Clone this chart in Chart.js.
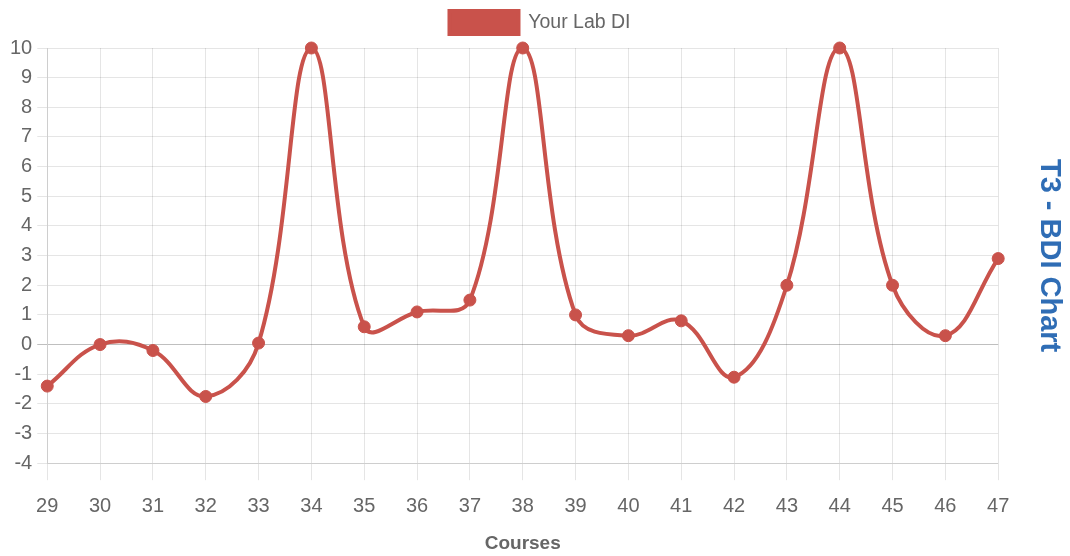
<!DOCTYPE html>
<html>
<head>
<meta charset="utf-8">
<script src="https://cdn.jsdelivr.net/npm/chart.js@4/dist/chart.umd.min.js"></script>
<style>
  html, body { margin: 0; padding: 0; background: #fff; }
  #wrap { width: 1070px; height: 556px; }
</style>
</head>
<body>
<div id="wrap"><canvas id="c" width="1070" height="556"></canvas></div>
<script>
const courses = ['29','30','31','32','33','34','35','36','37','38','39','40','41','42','43','44','45','46','47'];
const labDI = [-1.4, 0, -0.2, -1.75, 0.05, 10, 0.6, 1.1, 1.5, 10, 1.0, 0.3, 0.8, -1.1, 2.0, 10, 2.0, 0.3, 2.9];
const yTicks = [-4, -3, -2, -1, 0, 1, 2, 3, 4, 5, 6, 7, 8, 9, 10];
const seriesName = 'Your Lab DI';
const chartTitle = 'T3 - BDI Chart';
const xTitle = 'Courses';

const RED = '#c9524b';
const FONT = "'Liberation Sans', Arial, Helvetica, sans-serif";

const legendMargin = {
  id: 'legendMargin',
  beforeInit(chart) {
    const orig = chart.legend.fit;
    chart.legend.fit = function () {
      orig.bind(chart.legend)();
      this.height += 4;
    };
  }
};

new Chart(document.getElementById('c'), {
  type: 'line',
  data: {
    labels: courses,
    datasets: [{
      label: seriesName,
      data: labDI,
      borderColor: RED,
      backgroundColor: RED,
      borderWidth: 4,
      tension: 0.4,
      fill: false,
      clip: false,
      pointRadius: 6,
      pointBackgroundColor: RED,
      pointBorderColor: RED,
      pointBorderWidth: 1
    }]
  },
  plugins: [legendMargin],
  options: {
    responsive: false,
    animation: false,
    layout: { padding: { left: 10, right: 0, top: 0, bottom: 0 } },
    plugins: {
      legend: {
        position: 'top',
        labels: {
          boxWidth: 69,
          boxHeight: 23,
          color: '#666',
          font: { family: FONT, size: 19.5 },
          padding: 11
        }
      },
      title: {
        display: true,
        position: 'right',
        fullSize: false,
        text: chartTitle,
        color: '#2f6db5',
        font: { family: FONT, size: 29, weight: 'bold' },
        padding: { top: 4, bottom: 33 }
      },
      tooltip: { enabled: false }
    },
    scales: {
      x: {
        grid: {
          color: 'rgba(0,0,0,0.1)',
          tickLength: 17,
          drawTicks: true
        },
        border: { color: 'rgba(0,0,0,0.1)' },
        ticks: {
          color: '#666',
          font: { family: FONT, size: 20 },
          padding: 14,
          maxRotation: 0,
          autoSkip: false
        },
        title: {
          display: true,
          text: xTitle,
          color: '#666',
          font: { family: FONT, size: 19, weight: 'bold' },
          padding: { top: 0, bottom: 1 }
        }
      },
      y: {
        min: yTicks[0],
        max: yTicks[yTicks.length - 1],
        afterBuildTicks(scale) { scale.ticks = yTicks.map(v => ({ value: v })); },
        afterFit(scale) { scale.width -= 5; },
        grid: {
          color: ctx => (ctx.tick && ctx.tick.value === 0) ? 'rgba(0,0,0,0.25)' : 'rgba(0,0,0,0.1)',
          tickLength: 10
        },
        border: { color: 'rgba(0,0,0,0.1)' },
        ticks: {
          color: '#666',
          font: { family: FONT, size: 20 },
          padding: 5,
          stepSize: 1
        }
      }
    }
  }
});
</script>
</body>
</html>
